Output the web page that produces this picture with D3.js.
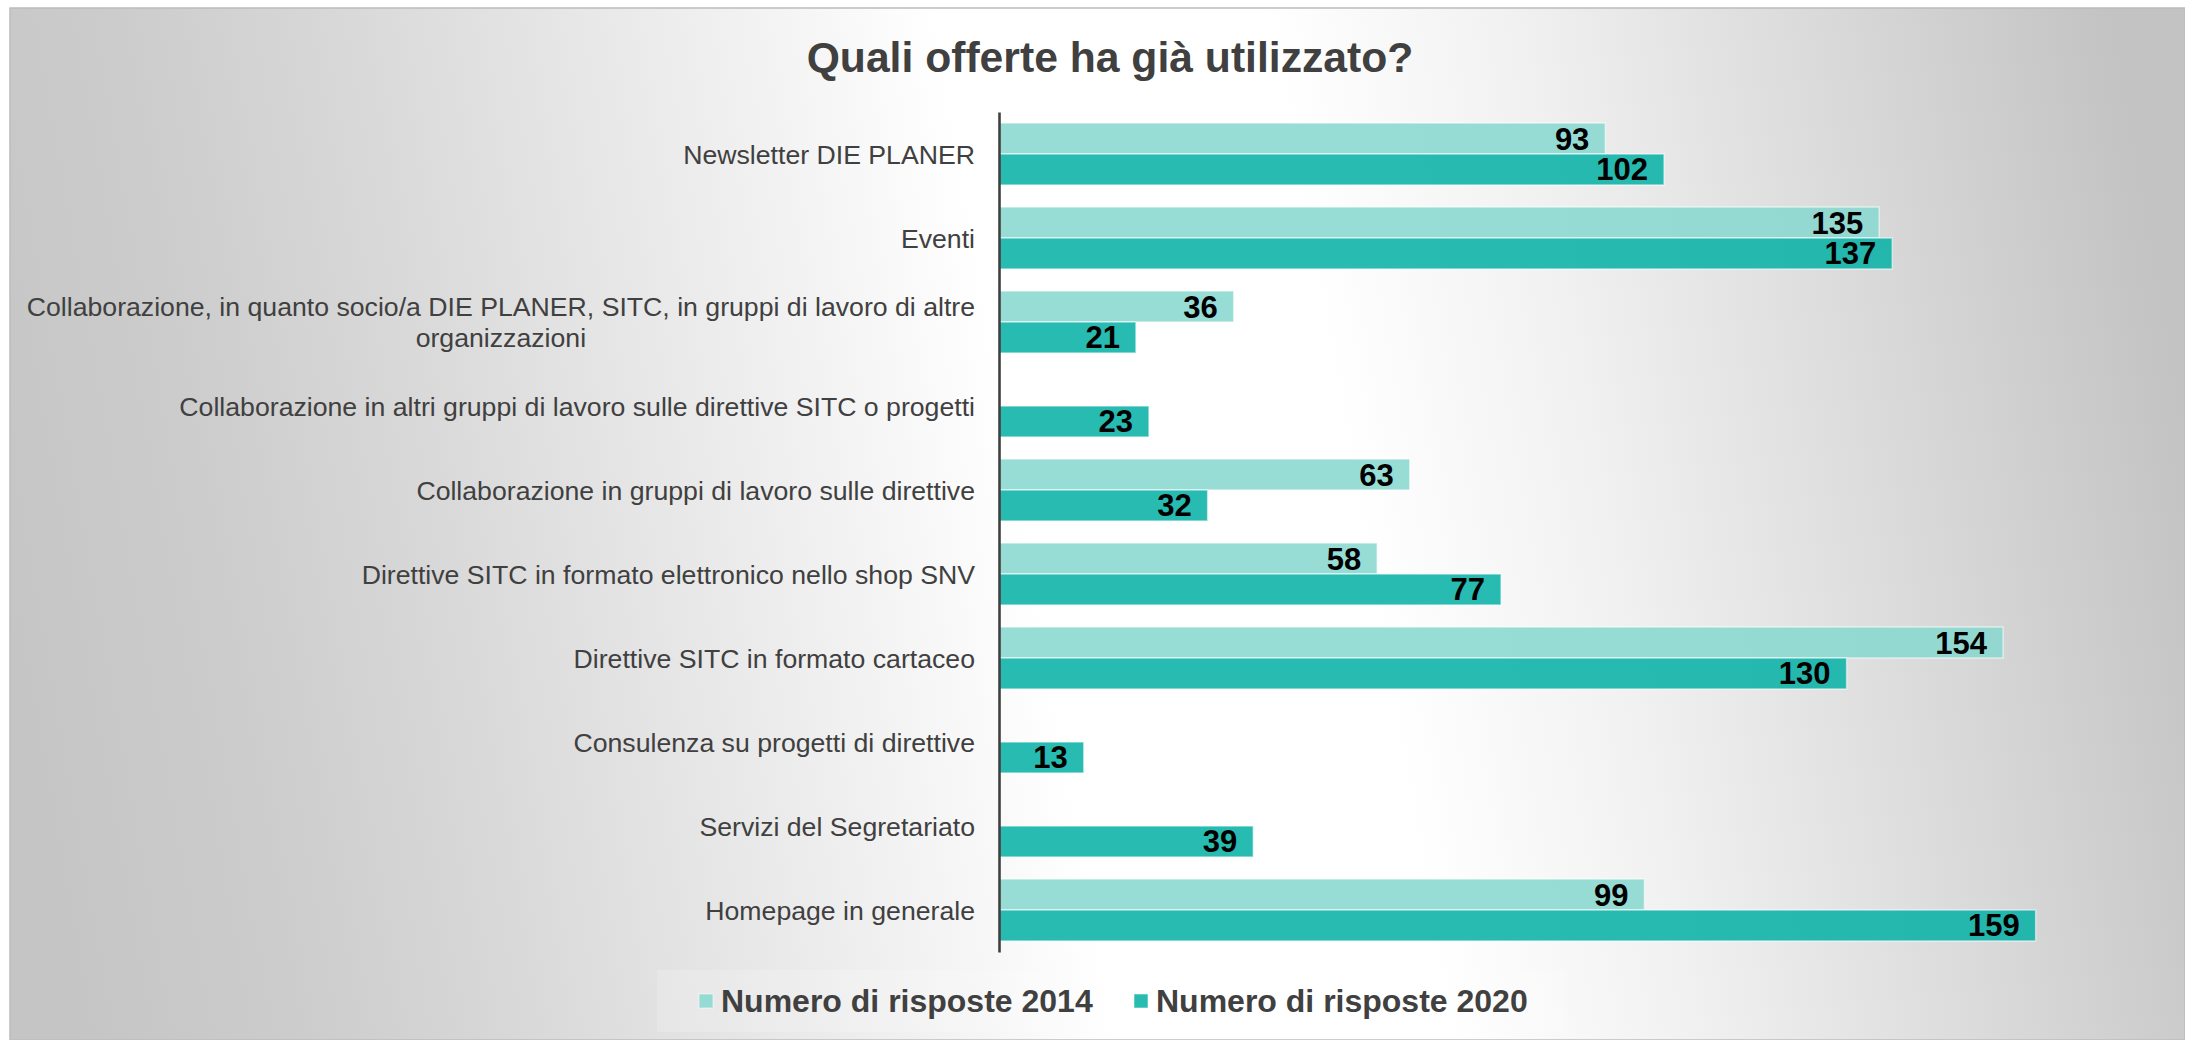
<!DOCTYPE html>
<html>
<head>
<meta charset="utf-8">
<script src="https://cdn.jsdelivr.net/npm/d3@7"></script>
<style>
  html, body { margin: 0; padding: 0; background: #ffffff; }
  svg { display: block; }
  text { font-family: "Liberation Sans", Arial, sans-serif; }
</style>
</head>
<body>
<svg id="chart" width="2185" height="1040"></svg>
<script>
const title = "Quali offerte ha già utilizzato?";
const categories = [
  "Newsletter DIE PLANER",
  "Eventi",
  "Collaborazione, in quanto socio/a DIE PLANER, SITC, in gruppi di lavoro di altre\norganizzazioni",
  "Collaborazione in altri gruppi di lavoro sulle direttive SITC o progetti",
  "Collaborazione in gruppi di lavoro sulle direttive",
  "Direttive SITC in formato elettronico nello shop SNV",
  "Direttive SITC in formato cartaceo",
  "Consulenza su progetti di direttive",
  "Servizi del Segretariato",
  "Homepage in generale"
];
const seriesNames = ["Numero di risposte 2014", "Numero di risposte 2020"];
const values2014 = [93, 135, 36, null, 63, 58, 154, null, null, 99];
const values2020 = [102, 137, 21, 23, 32, 77, 130, 13, 39, 159];
const seriesColors = ["#8ad8cf", "#0ab2a6"];

const svg = d3.select("#chart");
const W = 2185, H = 1040;

// background
const defs = svg.append("defs");
const bg = defs.append("linearGradient").attr("id", "bgGrad")
  .attr("gradientUnits", "userSpaceOnUse")
  .attr("x1", 0).attr("y1", 0).attr("x2", W).attr("y2", 0)
  .attr("gradientTransform", "rotate(-10, 1190, 520)");
[[0, "#c5c5c5"], [0.1, "#cccccc"], [0.2, "#d8d8d8"], [0.3, "#e6e6e6"], [0.4, "#f4f4f4"],
 [0.47, "#ffffff"], [0.62, "#ffffff"], [0.73, "#f1f1f1"], [0.83, "#e0e0e0"], [0.93, "#cfcfcf"], [1, "#c3c3c3"]]
  .forEach(([o, c]) => bg.append("stop").attr("offset", o).attr("stop-color", c));

svg.append("rect").attr("x", 10).attr("y", 8).attr("width", W - 10).attr("height", H - 8)
  .attr("fill", "url(#bgGrad)").attr("stroke", "#bcbcbc").attr("stroke-width", 1.5);

// title
svg.append("text").attr("x", 1110).attr("y", 72)
  .attr("text-anchor", "middle").attr("font-size", 42.67).attr("font-weight", "bold")
  .attr("fill", "#404040").text(title);

// scales
const x = d3.scaleLinear().domain([0, 180]).range([999, 999 + 180 * 6.52]);
const y = d3.scaleBand().domain(categories).range([112, 952]).paddingInner(0.262).paddingOuter(0.131);
const ySub = d3.scaleBand().domain([0, 1]).range([0, y.bandwidth()]);

const rows = categories.map((c, i) => ({ cat: c, vals: [values2014[i], values2020[i]] }));

const g = svg.append("g");
rows.forEach(r => {
  r.vals.forEach((v, s) => {
    if (v == null) return;
    const yy = y(r.cat) + ySub(s);
    g.append("rect")
      .attr("x", x(0)).attr("y", yy)
      .attr("width", x(v) - x(0)).attr("height", ySub.bandwidth())
      .attr("fill", seriesColors[s]).attr("fill-opacity", 0.88)
      .attr("stroke", "#ffffff").attr("stroke-opacity", 0.55).attr("stroke-width", 1.5);
    g.append("text")
      .attr("x", x(v) - 16).attr("y", yy + ySub.bandwidth() / 2 + 11)
      .attr("text-anchor", "end").attr("font-size", 31).attr("font-weight", "bold")
      .attr("fill", "#000000").text(v);
  });
});

// axis line (category axis without ticks)
const yAxis = d3.axisLeft(y).tickSize(0).tickFormat("");
const ax = svg.append("g").attr("transform", `translate(${x(0)},0)`).call(yAxis);
ax.select(".domain").attr("stroke", "#404040").attr("stroke-width", 2.6);

// category labels
rows.forEach(r => {
  const lines = r.cat.split("\n");
  const cy = y(r.cat) + y.bandwidth() / 2;
  const lh = 30.7;
  const t = svg.append("text").attr("font-size", 26.67).attr("fill", "#404040");
  const tspans = lines.map((ln, i) => t.append("tspan")
    .attr("y", cy + (i - (lines.length - 1) / 2) * lh + 9.5).text(ln));
  if (lines.length === 1) {
    t.attr("text-anchor", "end");
    tspans[0].attr("x", 975);
  } else {
    let maxW = 0;
    tspans.forEach(ts => { maxW = Math.max(maxW, ts.node().getComputedTextLength()); });
    t.attr("text-anchor", "middle");
    tspans.forEach(ts => ts.attr("x", 975 - maxW / 2));
  }
});

// legend
svg.append("rect").attr("x", 657).attr("y", 970).attr("width", 910).attr("height", 62)
  .attr("fill", "#ffffff").attr("fill-opacity", 0.18);
const legendX = [699, 1134];
seriesNames.forEach((n, i) => {
  svg.append("rect").attr("x", legendX[i]).attr("y", 994).attr("width", 14).attr("height", 14)
    .attr("fill", seriesColors[i]).attr("fill-opacity", 0.88)
    .attr("stroke", "#ffffff").attr("stroke-opacity", 0.55).attr("stroke-width", 1);
  svg.append("text").attr("x", legendX[i] + 22).attr("y", 1012)
    .attr("font-size", 32).attr("font-weight", "bold").attr("fill", "#404040").text(n);
});
</script>
</body>
</html>
